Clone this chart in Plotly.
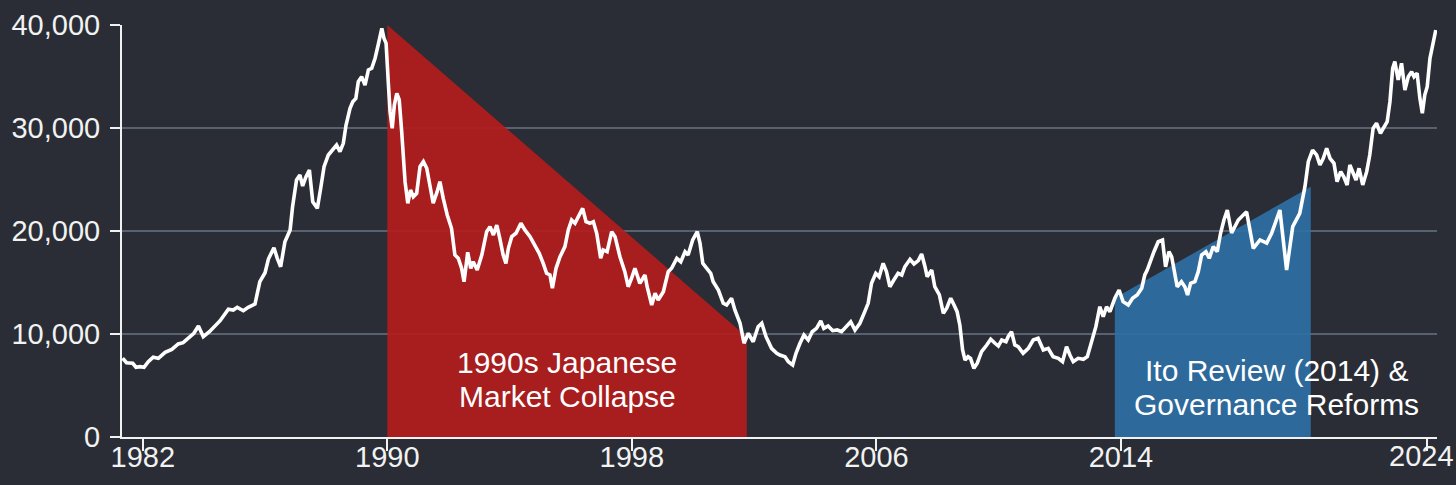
import plotly.graph_objects as go

# ---- data ----
YEARS = [1981.34, 1981.47, 1981.67, 1981.78, 1981.91, 1982.04, 1982.18, 1982.34, 1982.51, 1982.73,
         1982.95, 1983.16, 1983.32, 1983.49, 1983.67, 1983.82, 1983.98, 1984.18, 1984.31, 1984.53,
         1984.80, 1984.96, 1985.09, 1985.29, 1985.45, 1985.67, 1985.83, 1986.00, 1986.11, 1986.29,
         1986.40, 1986.51, 1986.65, 1986.82, 1986.90, 1987.03, 1987.14, 1987.23, 1987.34, 1987.45,
         1987.56, 1987.71, 1987.82, 1987.93, 1988.07, 1988.23, 1988.34, 1988.45, 1988.56, 1988.65,
         1988.78, 1988.87, 1988.97, 1989.05, 1989.16, 1989.27, 1989.38, 1989.49, 1989.60, 1989.70,
         1989.82, 1989.89, 1989.96, 1990.03, 1990.09, 1990.16, 1990.23, 1990.31, 1990.39, 1990.47,
         1990.58, 1990.67, 1990.76, 1990.85, 1990.96, 1991.07, 1991.18, 1991.29, 1991.40, 1991.50,
         1991.63, 1991.72, 1991.83, 1991.96, 1992.10, 1992.21, 1992.32, 1992.43, 1992.51, 1992.63,
         1992.73, 1992.81, 1992.94, 1993.09, 1993.25, 1993.36, 1993.47, 1993.58, 1993.68, 1993.79,
         1993.88, 1993.96, 1994.07, 1994.21, 1994.37, 1994.50, 1994.67, 1994.83, 1994.97, 1995.10,
         1995.21, 1995.32, 1995.40, 1995.52, 1995.65, 1995.81, 1995.92, 1996.03, 1996.14, 1996.25,
         1996.39, 1996.50, 1996.63, 1996.74, 1996.85, 1996.98, 1997.06, 1997.19, 1997.34, 1997.45,
         1997.61, 1997.77, 1997.88, 1997.99, 1998.10, 1998.26, 1998.43, 1998.50, 1998.65, 1998.76,
         1998.86, 1999.03, 1999.19, 1999.30, 1999.47, 1999.60, 1999.74, 1999.84, 1999.99, 2000.14,
         2000.23, 2000.32, 2000.45, 2000.58, 2000.66, 2000.83, 2000.99, 2001.10, 2001.26, 2001.37,
         2001.54, 2001.67, 2001.81, 2001.97, 2002.13, 2002.25, 2002.39, 2002.57, 2002.74, 2002.84,
         2003.01, 2003.12, 2003.26, 2003.37, 2003.50, 2003.63, 2003.77, 2003.90, 2004.04, 2004.18,
         2004.28, 2004.42, 2004.57, 2004.72, 2004.86, 2005.00, 2005.16, 2005.30, 2005.46, 2005.62,
         2005.73, 2005.84, 2005.98, 2006.09, 2006.22, 2006.33, 2006.44, 2006.57, 2006.71, 2006.83,
         2006.93, 2007.10, 2007.23, 2007.37, 2007.48, 2007.59, 2007.66, 2007.81, 2007.91, 2008.06,
         2008.19, 2008.30, 2008.43, 2008.54, 2008.64, 2008.73, 2008.82, 2008.90, 2009.00, 2009.08,
         2009.19, 2009.30, 2009.44, 2009.61, 2009.74, 2009.88, 2009.99, 2010.10, 2010.24, 2010.31,
         2010.42, 2010.53, 2010.64, 2010.80, 2010.97, 2011.13, 2011.29, 2011.46, 2011.62, 2011.78,
         2011.95, 2012.09, 2012.22, 2012.33, 2012.44, 2012.60, 2012.77, 2012.90, 2013.04, 2013.18,
         2013.31, 2013.42, 2013.53, 2013.64, 2013.80, 2013.94, 2014.07, 2014.24, 2014.38, 2014.53,
         2014.68, 2014.78, 2014.86, 2014.97, 2015.08, 2015.22, 2015.36, 2015.46, 2015.57, 2015.66,
         2015.77, 2015.84, 2015.98, 2016.09, 2016.18, 2016.28, 2016.42, 2016.53, 2016.64, 2016.78,
         2016.89, 2017.02, 2017.15, 2017.26, 2017.37, 2017.48, 2017.62, 2017.84, 2018.11, 2018.33,
         2018.55, 2018.77, 2018.93, 2019.20, 2019.42, 2019.62, 2019.85, 2020.02, 2020.13, 2020.27,
         2020.40, 2020.51, 2020.62, 2020.73, 2020.84, 2020.97, 2021.07, 2021.19, 2021.29, 2021.40,
         2021.49, 2021.58, 2021.69, 2021.79, 2021.91, 2022.04, 2022.14, 2022.25, 2022.36, 2022.49,
         2022.60, 2022.71, 2022.80, 2022.89, 2022.96, 2023.07, 2023.18, 2023.29, 2023.40, 2023.51,
         2023.59, 2023.69, 2023.78, 2023.86, 2023.94, 2024.02, 2024.11, 2024.22, 2024.30]

NIKKEI = [7640, 7210, 7160, 6770, 6830, 6770, 7310, 7740, 7640, 8220,
          8510, 9030, 9160, 9640, 10070, 10780, 9740, 10220, 10610, 11290,
          12400, 12330, 12590, 12260, 12590, 12910, 15080, 15950, 17280, 18380,
          17350, 16530, 18960, 20100, 22360, 24950, 25440, 24370, 25270, 25920,
          22840, 22200, 24150, 26240, 27380, 27930, 28350, 27700, 28510, 30290,
          31910, 32550, 32880, 34500, 34980, 34170, 35630, 35800, 36770, 38060,
          39680, 38710, 38220, 34500, 31580, 29970, 32230, 33370, 32720, 29640,
          24790, 22690, 23980, 23330, 23660, 26240, 26730, 26090, 24150, 22690,
          23820, 24790, 23170, 21550, 20260, 17670, 17350, 16380, 15080, 17930,
          16380, 17020, 16210, 17670, 19930, 20420, 19610, 20580, 19290, 17670,
          16860, 18320, 19450, 19780, 20750, 20100, 19450, 18640, 17830, 16860,
          15890, 15730, 14440, 16380, 17500, 18480, 20100, 21070, 20750, 21390,
          22200, 20900, 20750, 20900, 19780, 17350, 18160, 17990, 19930, 19450,
          17500, 16050, 14590, 15410, 16380, 14920, 15730, 14590, 12820, 13950,
          13300, 14110, 16050, 16380, 17350, 17020, 17990, 17670, 19130, 19930,
          18810, 16860, 16380, 15890, 15080, 14270, 12980, 12820, 13470, 12330,
          11040, 9100, 10070, 9250, 10710, 11040, 9740, 8610, 8130, 7960,
          7800, 7310, 6990, 8130, 9100, 9900, 9420, 10220, 10550, 11260,
          10550, 10780, 10320, 10390, 10220, 10650, 11190, 10390, 11040, 12170,
          12980, 14920, 15890, 15560, 16860, 16050, 14590, 15240, 15890, 15730,
          16530, 17250, 16800, 17120, 17770, 16530, 15560, 16210, 14590, 13790,
          12010, 12500, 13470, 12820, 12170, 10870, 8450, 7480, 7800, 7640,
          6670, 7160, 8280, 8930, 9490, 9100, 8830, 9420, 9250, 9740,
          10220, 8930, 8770, 8130, 8610, 9420, 9580, 8450, 8610, 7800,
          7640, 7310, 8770, 7960, 7310, 7640, 7540, 7800, 9420, 10710,
          12650, 11680, 12650, 12170, 13470, 14270, 13140, 12820, 13470, 13790,
          14440, 15730, 16210, 17180, 17990, 18960, 19130, 16530, 17990, 17500,
          15560, 14590, 15080, 14590, 13790, 14920, 15080, 16050, 17670, 17990,
          17350, 18480, 17990, 19780, 21070, 22040, 19810, 21070, 21870, 18320,
          19130, 18830, 19780, 22040, 16210, 20420, 21720, 24300, 26730, 27860,
          27380, 26410, 27060, 28030, 27060, 26570, 24790, 25760, 25270, 24470,
          26410, 25760, 24950, 26090, 24470, 25760, 27380, 29970, 30460, 29490,
          30130, 30610, 32550, 35800, 36440, 34660, 36280, 33690, 34980, 35470,
          34980, 35310, 32880, 31430, 33200, 34010, 36770, 38380, 39510]

# highlighted periods (corner years and index levels)
COLLAPSE_YEARS = [1990.0, 1990.0, 2001.76, 2001.76]
COLLAPSE_VALUES = [0, 40000, 9700, 0]
REFORM_YEARS = [2013.80, 2013.80, 2020.21, 2020.21]
REFORM_VALUES = [0, 13500, 24300, 0]

X_TICKS = [1982, 1990, 1998, 2006, 2014, 2024]
Y_TICKS = [0, 10000, 20000, 30000, 40000]

COLLAPSE_LABEL = ["1990s Japanese", "Market Collapse"]
REFORM_LABEL = ["Ito Review (2014) &", "Governance Reforms"]

BG = "#2a2d35"
FG = "#f2f2f2"
FONT = "Liberation Sans, Arial, sans-serif"

fig = go.Figure()

fig.add_trace(go.Scatter(
    x=COLLAPSE_YEARS, y=COLLAPSE_VALUES, mode="lines", fill="toself",
    fillcolor="rgba(182,28,27,0.9)", line=dict(width=0), hoverinfo="skip",
    showlegend=False))
fig.add_trace(go.Scatter(
    x=REFORM_YEARS, y=REFORM_VALUES, mode="lines", fill="toself",
    fillcolor="rgba(45,113,166,0.9)", line=dict(width=0), hoverinfo="skip",
    showlegend=False))
fig.add_trace(go.Scatter(
    x=YEARS, y=NIKKEI, mode="lines",
    line=dict(color="#ffffff", width=3.6, shape="linear"),
    showlegend=False))

annotations = []
for text, xv, yv in [(COLLAPSE_LABEL[0], 1995.89, 7280), (COLLAPSE_LABEL[1], 1995.89, 3980),
                     (REFORM_LABEL[0], 2019.09, 6500), (REFORM_LABEL[1], 2019.09, 3110)]:
    annotations.append(dict(
        x=xv, y=yv, xref="x", yref="y", text=text, showarrow=False,
        xanchor="center", yanchor="middle",
        font=dict(family=FONT, size=30, color="#ffffff")))

# last year label: drawn next to its tick, nudged so it stays inside the page
last_year = X_TICKS[-1]
annotations.append(dict(
    x=last_year, y=0, xref="x", yref="paper", text=str(last_year), showarrow=False,
    xanchor="center", yanchor="middle", xshift=-5, yshift=-19,
    font=dict(family=FONT, size=29, color=FG)))

tick_text = [str(v) for v in X_TICKS[:-1]] + [""]

fig.update_layout(
    width=1456, height=485, autosize=False,
    margin=dict(l=122, r=19, t=25, b=48, autoexpand=False),
    paper_bgcolor=BG, plot_bgcolor=BG,
    font=dict(family=FONT, color=FG),
    annotations=annotations,
    xaxis=dict(
        range=[1981.32, 2024.34], showgrid=False, zeroline=False, automargin=False,
        showline=True, linecolor=FG, linewidth=2,
        ticks="outside", ticklen=12, tickwidth=2, tickcolor=FG,
        tickvals=X_TICKS, ticktext=tick_text,
        tickfont=dict(family=FONT, size=29, color=FG),
        ticklabelstandoff=-19, ticklabeloverflow="allow"),
    yaxis=dict(
        range=[0, 40000], showgrid=True, gridcolor="#58626e", gridwidth=1.5,
        zeroline=False, automargin=False, showline=True, linecolor=FG, linewidth=2,
        ticks="outside", ticklen=10, tickwidth=2, tickcolor=FG,
        tickvals=Y_TICKS, tickformat=",",
        tickfont=dict(family=FONT, size=29, color=FG),
        ticklabelstandoff=4),
)

fig.write_html(
    "out.html",
    config={"displayModeBar": False, "responsive": False},
    post_script="document.body.style.margin='0';document.body.style.background='" + BG + "';")
